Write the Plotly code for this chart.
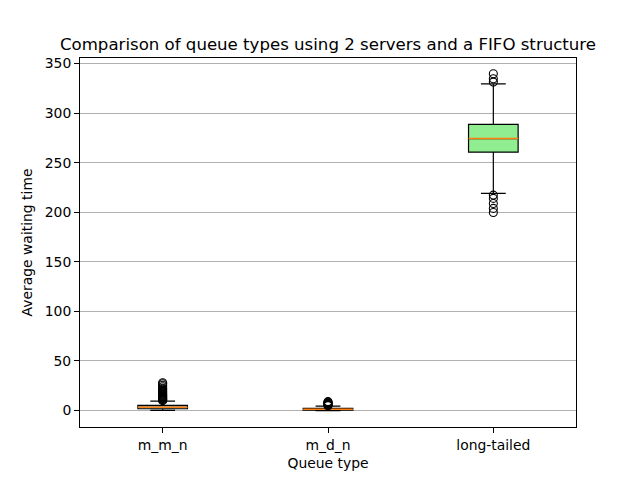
import plotly.graph_objects as go

categories = ["m_m_n", "m_d_n", "long-tailed"]
positions = [1, 2, 3]
q1 = [1.8, 0.5, 260.6]
median = [3.3, 1.2, 274.3]
q3 = [5.2, 2.2, 288.7]
lowerfence = [0.1, 0.0, 219.0]
upperfence = [9.5, 4.4, 329.6]
outliers = [
    [10.0, 10.5, 11.0, 11.5, 12.0, 12.5, 13.0, 13.6, 14.2, 14.8, 15.5, 16.2, 17.0, 17.8, 18.6, 19.5, 20.5, 21.5, 22.5, 24.0, 25.5, 27.0, 28.0],
    [4.9, 5.4, 6.0, 6.6, 7.2, 7.8, 8.4, 9.0],
    [331.3, 334.7, 339.7, 217.3, 214.0, 208.8, 203.9, 199.8],
]
fill_colors = ["lightblue", "lightyellow", "lightgreen"]
box_width = 0.3

fig = go.Figure()
for i, cat in enumerate(categories):
    p = positions[i]
    fig.add_trace(go.Box(
        x=[p], q1=[q1[i]], median=[median[i]], q3=[q3[i]],
        lowerfence=[lowerfence[i]], upperfence=[upperfence[i]],
        width=box_width, fillcolor=fill_colors[i],
        line=dict(color="black", width=1.2), whiskerwidth=0.5,
        boxpoints=False, showlegend=False, name=cat,
    ))
    fig.add_trace(go.Scatter(
        x=[p - box_width / 2, p + box_width / 2], y=[median[i], median[i]],
        mode="lines", line=dict(color="#ff7f0e", width=1.5),
        showlegend=False, hoverinfo="skip",
    ))
    fig.add_trace(go.Scatter(
        x=[p] * len(outliers[i]), y=outliers[i], mode="markers",
        marker=dict(symbol="circle-open", size=8, color="black", line=dict(width=1.1)),
        showlegend=False,
    ))

fig.update_layout(
    width=632, height=472,
    margin=dict(l=72, r=64, t=50, b=53),
    paper_bgcolor="white", plot_bgcolor="white",
    font=dict(family="DejaVu Sans", size=13.9, color="black"),
    title=dict(text="Comparison of queue types using 2 servers and a FIFO structure",
               xref="paper", x=0.5, xanchor="center", y=1 - 36 / 472, yanchor="middle",
               font=dict(size=16.6)),
)
fig.update_xaxes(
    range=[0.5, 3.5], tickmode="array", tickvals=positions, ticktext=categories,
    showline=True, linecolor="black", linewidth=1, mirror=True,
    ticks="outside", ticklen=5, tickcolor="black", showgrid=False, zeroline=False,
    title=dict(text="Queue type", font=dict(size=13.9), standoff=6),
)
fig.update_yaxes(
    range=[-16.6, 355.6], tickvals=[0, 50, 100, 150, 200, 250, 300, 350],
    showline=True, linecolor="black", linewidth=1, mirror=True,
    ticks="outside", ticklen=5, tickcolor="black",
    showgrid=True, gridcolor="#b0b0b0", gridwidth=1, zeroline=False,
    title=dict(text="Average waiting time", font=dict(size=13.9), standoff=8),
)
fig.write_html("out.html")
